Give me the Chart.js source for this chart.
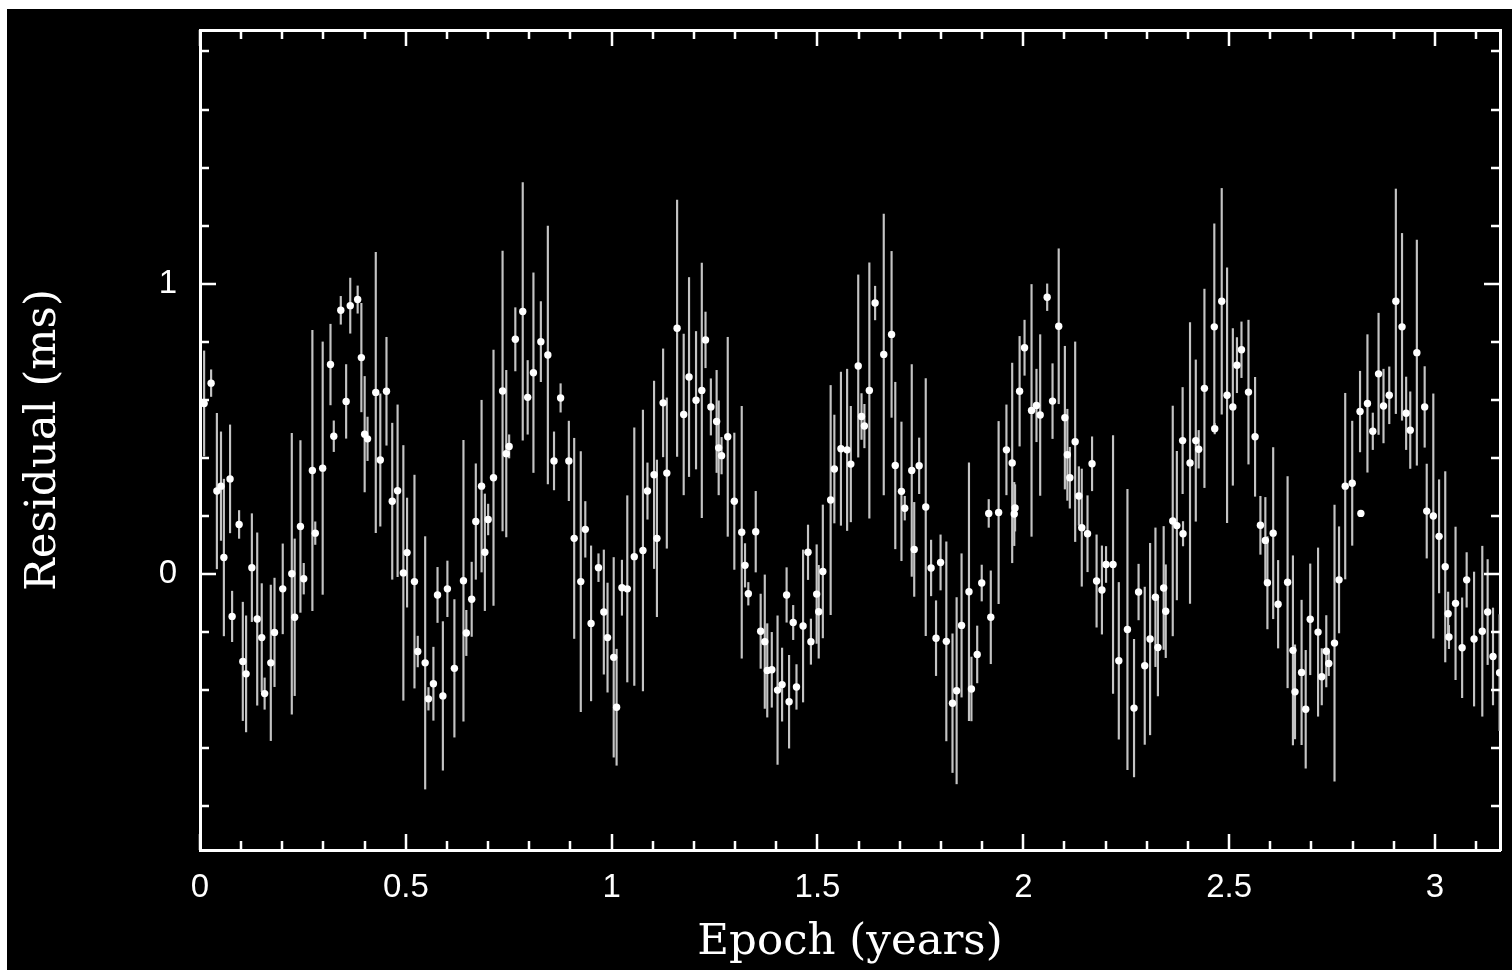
<!DOCTYPE html>
<html>
<head>
<meta charset="utf-8">
<script src="https://cdn.jsdelivr.net/npm/chart.js@4"></script>
<style>
  html, body { margin: 0; padding: 0; background: #fff; }
  #plot { position: absolute; left: 7px; top: 9px; background: #000; }
</style>
</head>
<body>
<canvas id="plot" width="1505" height="961"></canvas>
<script>
// Timing residuals
const epochs = [
  0.010, 0.027, 0.041, 0.051, 0.058, 0.073, 0.078, 0.095, 0.104, 0.112,
  0.126, 0.139, 0.150, 0.157, 0.172, 0.181, 0.201, 0.223, 0.230, 0.244,
  0.252, 0.273, 0.280, 0.298, 0.317, 0.325, 0.342, 0.355, 0.365, 0.383,
  0.392, 0.400, 0.407, 0.427, 0.438, 0.453, 0.467, 0.480, 0.494, 0.503,
  0.521, 0.529,
  0.547, 0.555, 0.567, 0.577, 0.590, 0.601, 0.618, 0.640, 0.647, 0.660,
  0.670, 0.684, 0.692, 0.700, 0.713, 0.735, 0.744, 0.751, 0.766, 0.784,
  0.796, 0.810, 0.828, 0.845, 0.860, 0.876, 0.896, 0.909, 0.925, 0.936,
  0.950, 0.968, 0.981, 0.990, 1.005, 1.012, 1.025, 1.038, 1.055, 1.076,
  1.087, 1.103, 1.110, 1.125, 1.134, 1.159, 1.175, 1.188, 1.205, 1.219,
  1.228, 1.241, 1.255, 1.260, 1.267, 1.282, 1.298, 1.316, 1.324, 1.332,
  1.350, 1.362, 1.372, 1.378, 1.389, 1.403, 1.414, 1.425, 1.431, 1.441,
  1.449, 1.465, 1.477, 1.484, 1.498, 1.503, 1.513, 1.532, 1.541, 1.557,
  1.572, 1.581, 1.599, 1.607, 1.614,
  1.626, 1.640, 1.661, 1.680, 1.689, 1.704, 1.712, 1.729, 1.735, 1.747,
  1.763, 1.776, 1.788, 1.799, 1.813, 1.828, 1.838, 1.850, 1.868, 1.874,
  1.888, 1.899, 1.916, 1.921, 1.940, 1.959, 1.973, 1.978, 1.980, 1.991,
  2.003, 2.020, 2.032, 2.041, 2.058, 2.071, 2.086, 2.101, 2.107, 2.113,
  2.126, 2.135, 2.142,
  2.156, 2.167, 2.178, 2.191, 2.201, 2.218, 2.232, 2.253, 2.269, 2.280,
  2.295, 2.308, 2.321, 2.327, 2.341, 2.346, 2.363, 2.373, 2.387, 2.388,
  2.405, 2.419, 2.426, 2.440, 2.464, 2.465, 2.482, 2.495, 2.509, 2.519,
  2.530, 2.547, 2.563, 2.576, 2.588, 2.593, 2.607, 2.619, 2.642, 2.655,
  2.660, 2.676,
  2.686, 2.697, 2.716, 2.725, 2.736, 2.742, 2.756, 2.767, 2.782, 2.799,
  2.818, 2.820, 2.836, 2.849, 2.863, 2.875, 2.889, 2.905, 2.920, 2.930,
  2.940, 2.956, 2.975, 2.980, 2.996, 3.010, 3.025, 3.032, 3.034, 3.050,
  3.066, 3.077, 3.095, 3.115, 3.128, 3.141, 3.157
];

const residuals = [
  0.587, 0.657, 0.285, 0.302, 0.056, 0.327, -0.147, 0.170, -0.302, -0.345,
  0.021, -0.156, -0.220, -0.413, -0.307, -0.202, -0.052, 0.000, -0.150, 0.163,
  -0.017, 0.356, 0.140, 0.364, 0.721, 0.474, 0.908, 0.594, 0.924, 0.945,
  0.745, 0.481, 0.465, 0.625, 0.392, 0.629, 0.250, 0.286, 0.003, 0.073,
  -0.027, -0.268,
  -0.307, -0.431, -0.379, -0.073, -0.421, -0.052, -0.326, -0.024, -0.204, -0.088,
  0.180, 0.302, 0.074, 0.187, 0.331, 0.630, 0.414, 0.439, 0.808, 0.904,
  0.608, 0.693, 0.800, 0.754, 0.389, 0.606, 0.389, 0.122, -0.027, 0.153,
  -0.171, 0.021, -0.132, -0.220, -0.288, -0.460, -0.048, -0.052, 0.059, 0.080,
  0.285, 0.341, 0.122, 0.589, 0.347, 0.846, 0.549, 0.678, 0.598, 0.632,
  0.806, 0.575, 0.525, 0.434, 0.407, 0.472, 0.250, 0.143, 0.029, -0.069,
  0.145, -0.198, -0.234, -0.333, -0.331, -0.401, -0.382, -0.073, -0.441, -0.168,
  -0.390, -0.180, 0.074, -0.234, -0.070, -0.131, 0.008, 0.254, 0.361, 0.431,
  0.427, 0.378, 0.716, 0.542, 0.509,
  0.632, 0.933, 0.756, 0.825, 0.373, 0.284, 0.226, 0.356, 0.084, 0.372,
  0.230, 0.020, -0.222, 0.039, -0.233, -0.446, -0.403, -0.178, -0.062, -0.397,
  -0.278, -0.032, 0.208, -0.150, 0.211, 0.427, 0.382, 0.206, 0.227, 0.629,
  0.779, 0.563, 0.580, 0.547, 0.953, 0.595, 0.853, 0.538, 0.410, 0.331,
  0.455, 0.268, 0.159,
  0.138, 0.379, -0.025, -0.056, 0.032, 0.032, -0.300, -0.192, -0.463, -0.063,
  -0.317, -0.225, -0.081, -0.254, -0.049, -0.129, 0.182, 0.166, 0.459, 0.138,
  0.382, 0.459, 0.429, 0.639, 0.851, 0.500, 0.939, 0.615, 0.575, 0.719,
  0.772, 0.626, 0.472, 0.167, 0.115, -0.031, 0.140, -0.105, -0.029, -0.264,
  -0.407, -0.340,
  -0.467, -0.157, -0.201, -0.355, -0.267, -0.309, -0.239, -0.021, 0.302, 0.312,
  0.559, 0.208, 0.587, 0.491, 0.689, 0.578, 0.615, 0.939, 0.851, 0.553,
  0.495, 0.762, 0.575, 0.216, 0.199, 0.129, 0.024, -0.138, -0.218, -0.102,
  -0.255, -0.021, -0.225, -0.198, -0.132, -0.285, -0.341
];

const errors = [
  0.181, 0.046, 0.268, 0.187, 0.270, 0.186, 0.087, 0.048, 0.204, 0.200,
  0.186, 0.297, 0.186, 0.054, 0.268, 0.187, 0.155, 0.484, 0.270, 0.296,
  0.053, 0.483, 0.039, 0.435, 0.139, 0.053, 0.048, 0.127, 0.095, 0.047,
  0.187, 0.199, 0.075, 0.483, 0.228, 0.186, 0.269, 0.296, 0.439, 0.188,
  0.367, 0.053,
  0.435, 0.039, 0.126, 0.095, 0.256, 0.096, 0.237, 0.484, 0.078, 0.128,
  0.199, 0.296, 0.201, 0.053, 0.440, 0.482, 0.287, 0.040, 0.109, 0.444,
  0.127, 0.344, 0.138, 0.444, 0.100, 0.049, 0.137, 0.345, 0.448, 0.096,
  0.267, 0.048, 0.214, 0.188, 0.344, 0.200, 0.095, 0.321, 0.444, 0.484,
  0.097, 0.323, 0.270, 0.186, 0.259, 0.442, 0.277, 0.343, 0.237, 0.439,
  0.096, 0.097, 0.176, 0.162, 0.063, 0.343, 0.235, 0.434, 0.075, 0.039,
  0.139, 0.128, 0.230, 0.161, 0.129, 0.256, 0.126, 0.094, 0.160, 0.059,
  0.077, 0.262, 0.094, 0.078, 0.170, 0.160, 0.229, 0.395, 0.186, 0.264,
  0.278, 0.199, 0.314, 0.079, 0.075,
  0.440, 0.058, 0.484, 0.286, 0.287, 0.239, 0.041, 0.365, 0.162, 0.096,
  0.443, 0.096, 0.129, 0.095, 0.343, 0.239, 0.321, 0.247, 0.444, 0.110,
  0.098, 0.062, 0.048, 0.160, 0.314, 0.155, 0.344, 0.109, 0.080, 0.189,
  0.095, 0.434, 0.125, 0.277, 0.046, 0.129, 0.267, 0.246, 0.157, 0.105,
  0.344, 0.101, 0.202,
  0.131, 0.093, 0.159, 0.152, 0.062, 0.444, 0.270, 0.483, 0.237, 0.096,
  0.271, 0.330, 0.239, 0.167, 0.212, 0.160, 0.396, 0.256, 0.183, 0.042,
  0.484, 0.278, 0.065, 0.342, 0.355, 0.018, 0.389, 0.439, 0.270, 0.095,
  0.096, 0.248, 0.205, 0.100, 0.148, 0.159, 0.295, 0.151, 0.364, 0.326,
  0.162, 0.249,
  0.203, 0.191, 0.290, 0.097, 0.123, 0.042, 0.476, 0.183, 0.320, 0.214,
  0.139, 0.000, 0.237, 0.063, 0.209, 0.127, 0.098, 0.387, 0.322, 0.125,
  0.132, 0.388, 0.139, 0.162, 0.421, 0.195, 0.328, 0.075, 0.040, 0.263,
  0.172, 0.094, 0.231, 0.293, 0.181, 0.167, 0.200
];

// Axis ticks
const xMajor = [0, 0.5, 1, 1.5, 2, 2.5, 3];
const xLabels = ['0', '0.5', '1', '1.5', '2', '2.5', '3'];
const xMinor = [0.1, 0.2, 0.3, 0.4, 0.6, 0.7, 0.8, 0.9, 1.1, 1.2, 1.3, 1.4,
                1.6, 1.7, 1.8, 1.9, 2.1, 2.2, 2.3, 2.4, 2.6, 2.7, 2.8, 2.9, 3.1];
const yMajor = [0, 1];
const yLabels = ['0', '1'];
const yMinor = [-0.8, -0.6, -0.4, -0.2, 0.2, 0.4, 0.6, 0.8, 1.2, 1.4, 1.6, 1.8];

const X_MIN = 0, X_MAX = 3.158;
const Y_MIN = -0.952, Y_MAX = 1.874;

// inward tick marks on all four sides
const inwardTicks = {
  id: 'inwardTicks',
  afterDraw(chart) {
    const ctx = chart.ctx;
    const a = chart.chartArea;
    const xs = chart.scales.x, ys = chart.scales.y;
    ctx.save();
    ctx.strokeStyle = '#fff';
    ctx.lineWidth = 2.5;
    ctx.beginPath();
    const xt = xMajor.map(v => [v, 16]).concat(xMinor.map(v => [v, 9]));
    xt.forEach(([v, len]) => {
      const px = Math.round(xs.getPixelForValue(v));
      ctx.moveTo(px, a.bottom); ctx.lineTo(px, a.bottom - len);
      ctx.moveTo(px, a.top); ctx.lineTo(px, a.top + len);
    });
    const yt = yMajor.map(v => [v, 16]).concat(yMinor.map(v => [v, 9]));
    yt.forEach(([v, len]) => {
      const py = Math.round(ys.getPixelForValue(v));
      ctx.moveTo(a.left, py); ctx.lineTo(a.left + len, py);
      ctx.moveTo(a.right, py); ctx.lineTo(a.right - len, py);
    });
    ctx.stroke();
    ctx.restore();
  }
};

Chart.defaults.color = '#fff';

const border = { display: true, color: '#fff', width: 3 };

function noPad(s) {
  s.paddingTop = 0; s.paddingBottom = 0; s.paddingLeft = 0; s.paddingRight = 0;
}

new Chart(document.getElementById('plot'), {
  type: 'scatter',
  data: {
    datasets: [{
      type: 'scatter',
      data: epochs.map((x, i) => ({ x: x, y: residuals[i] })),
      pointRadius: 3.7,
      pointBackgroundColor: '#fff',
      pointBorderWidth: 0,
      order: 0
    }, {
      type: 'bar',
      data: epochs.map((x, i) => ({ x: x, y: [residuals[i] - errors[i], residuals[i] + errors[i]] })),
      backgroundColor: '#c4c4c4',
      borderWidth: 0,
      barThickness: 1.5,
      order: 1
    }]
  },
  options: {
    responsive: false,
    animation: false,
    devicePixelRatio: 1,
    layout: { padding: { left: 0, right: 12, top: 21, bottom: 0 } },
    plugins: { legend: { display: false }, tooltip: { enabled: false } },
    scales: {
      x: {
        type: 'linear', position: 'bottom', min: X_MIN, max: X_MAX, offset: false,
        grid: { display: false }, border: border,
        afterBuildTicks: s => { s.ticks = xMajor.map(v => ({ value: v })); },
        afterFit: s => { s.height = 120; noPad(s); },
        ticks: {
          padding: 10, maxRotation: 0, autoSkip: false,
          font: { family: 'Liberation Sans', size: 33 },
          callback: v => xLabels[xMajor.indexOf(v)]
        },
        title: {
          display: true, text: 'Epoch (years)', color: '#fff',
          font: { family: 'DejaVu Serif', size: 43.5 },
          padding: { top: 0, bottom: 1 }
        }
      },
      x2: {
        type: 'linear', position: 'top', min: X_MIN, max: X_MAX,
        grid: { display: false }, border: border, ticks: { display: false },
        afterFit: s => { s.height = 0; noPad(s); }
      },
      y: {
        type: 'linear', position: 'left', min: Y_MIN, max: Y_MAX,
        grid: { display: false }, border: border,
        afterBuildTicks: s => { s.ticks = yMajor.map(v => ({ value: v })); },
        afterFit: s => { s.width = 193; noPad(s); },
        ticks: {
          padding: 15, autoSkip: false,
          font: { family: 'Liberation Sans', size: 33 },
          callback: v => yLabels[yMajor.indexOf(v)]
        },
        title: {
          display: true, text: 'Residual (ms)', color: '#fff',
          font: { family: 'DejaVu Serif', size: 43.5 },
          padding: { top: 11, bottom: 0 }
        }
      },
      y2: {
        type: 'linear', position: 'right', min: Y_MIN, max: Y_MAX,
        grid: { display: false }, border: border, ticks: { display: false },
        afterFit: s => { s.width = 0; noPad(s); }
      }
    }
  },
  plugins: [inwardTicks]
});
</script>
</body>
</html>
